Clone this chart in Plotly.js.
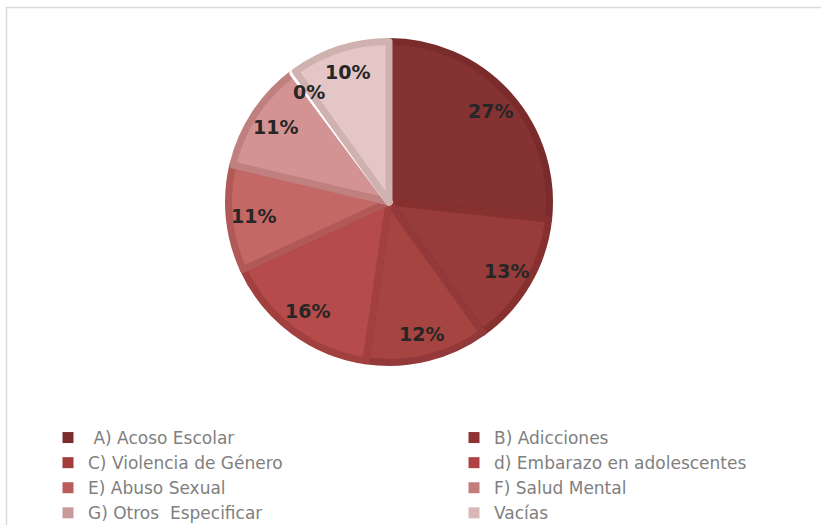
<!DOCTYPE html>
<html><head><meta charset="utf-8">
<script src="https://cdn.plot.ly/plotly-3.0.1.min.js"></script>
<style>html,body{margin:0;padding:0;background:#fff;}</style>
</head><body>
<div id="chart" style="width:821px;height:525px;"></div>
<script>
const labels = ["\u00a0A) Acoso Escolar", "B) Adicciones", "C) Violencia de Género", "d) Embarazo en adolescentes",
                "E) Abuso Sexual", "F) Salud Mental", "G) Otros\u00a0 Especificar", "Vacías"];
const values = [26.7, 13.4, 12.2, 15.8, 10.6, 11.1, 0.3, 9.9];
const fillColors = ["#843232", "#973B3B", "#A54441", "#B54B4A", "#C46866", "#D39393", "#DDB0B0", "#E3C6C5"];
const lineColors = ["#7A2C2C", "#86302F", "#94393A", "#A23F3F", "#B05957", "#C08080", "#FFFFFF", "#CFB1B0"];
const legendColors = ["#7B2C2C", "#8E3232", "#A33D3B", "#AE4341", "#B95C5A", "#C07D7C", "#C99A9A", "#D7B8B7"];

const W = 821, H = 525;
const CX = 389, CY = 202, R = 164, LW = 7;

const pieTrace = {
  type: "pie", labels: labels, values: values, sort: false, direction: "clockwise", rotation: 0,
  marker: {colors: fillColors, line: {color: lineColors, width: LW}},
  textinfo: "none", hoverinfo: "label+percent", showlegend: false,
  domain: {x: [(CX - R + LW / 2) / W, (CX + R - LW / 2) / W],
           y: [1 - (CY + R - LW / 2) / H, 1 - (CY - R + LW / 2) / H]}
};

// legend entries (two columns, as in the original): one proxy trace per category
const legendTraces = labels.map((lab, i) => ({
  type: "scatter", mode: "markers", x: [null], y: [null], name: lab,
  marker: {symbol: "square", size: 11, color: legendColors[i], line: {width: 0}},
  legend: i % 2 === 0 ? "legend" : "legend2",
  showlegend: true, hoverinfo: "skip"
}));

// percentage labels placed on each slice's mid-angle
const total = values.reduce((a, b) => a + b, 0);
const annotations = [];
let cum = 0;
values.forEach((v, i) => {
  const mid = (cum + v / 2) / total * 2 * Math.PI;
  cum += v;
  const rr = 0.83 * R;
  annotations.push({
    xref: "paper", yref: "paper",
    x: (CX + rr * Math.sin(mid)) / W, y: 1 - (CY - rr * Math.cos(mid)) / H,
    text: Math.round(v / total * 100) + "%", showarrow: false,
    xanchor: "center", yanchor: "middle",
    font: {family: "DejaVu Sans, sans-serif", size: 19, color: "#262626", weight: "bold"}
  });
});

const legendFont = {family: "DejaVu Sans, sans-serif", size: 17, color: "#7F7F7F"};
const layout = {
  width: W, height: H,
  margin: {l: 0, r: 0, t: 0, b: 0, autoexpand: false},
  paper_bgcolor: "#ffffff", plot_bgcolor: "#ffffff",
  xaxis: {visible: false}, yaxis: {visible: false},
  showlegend: true,
  legend: {orientation: "v", x: 48 / W, xanchor: "left", y: 1 - 420 / H, yanchor: "top",
           itemwidth: 30, font: legendFont, tracegroupgap: 0, bgcolor: "rgba(0,0,0,0)"},
  legend2: {orientation: "v", x: 454 / W, xanchor: "left", y: 1 - 420 / H, yanchor: "top",
            itemwidth: 30, font: legendFont, tracegroupgap: 0, bgcolor: "rgba(0,0,0,0)"},
  annotations: annotations,
  shapes: [{
    type: "rect", xref: "paper", yref: "paper",
    x0: 6.5 / W, x1: 1.02, y0: -0.02, y1: 1 - 7.5 / H,
    line: {color: "#D9D9D9", width: 1.5}
  }]
};

Plotly.newPlot("chart", [pieTrace].concat(legendTraces), layout, {displayModeBar: false, staticPlot: true});
</script>
</body></html>
